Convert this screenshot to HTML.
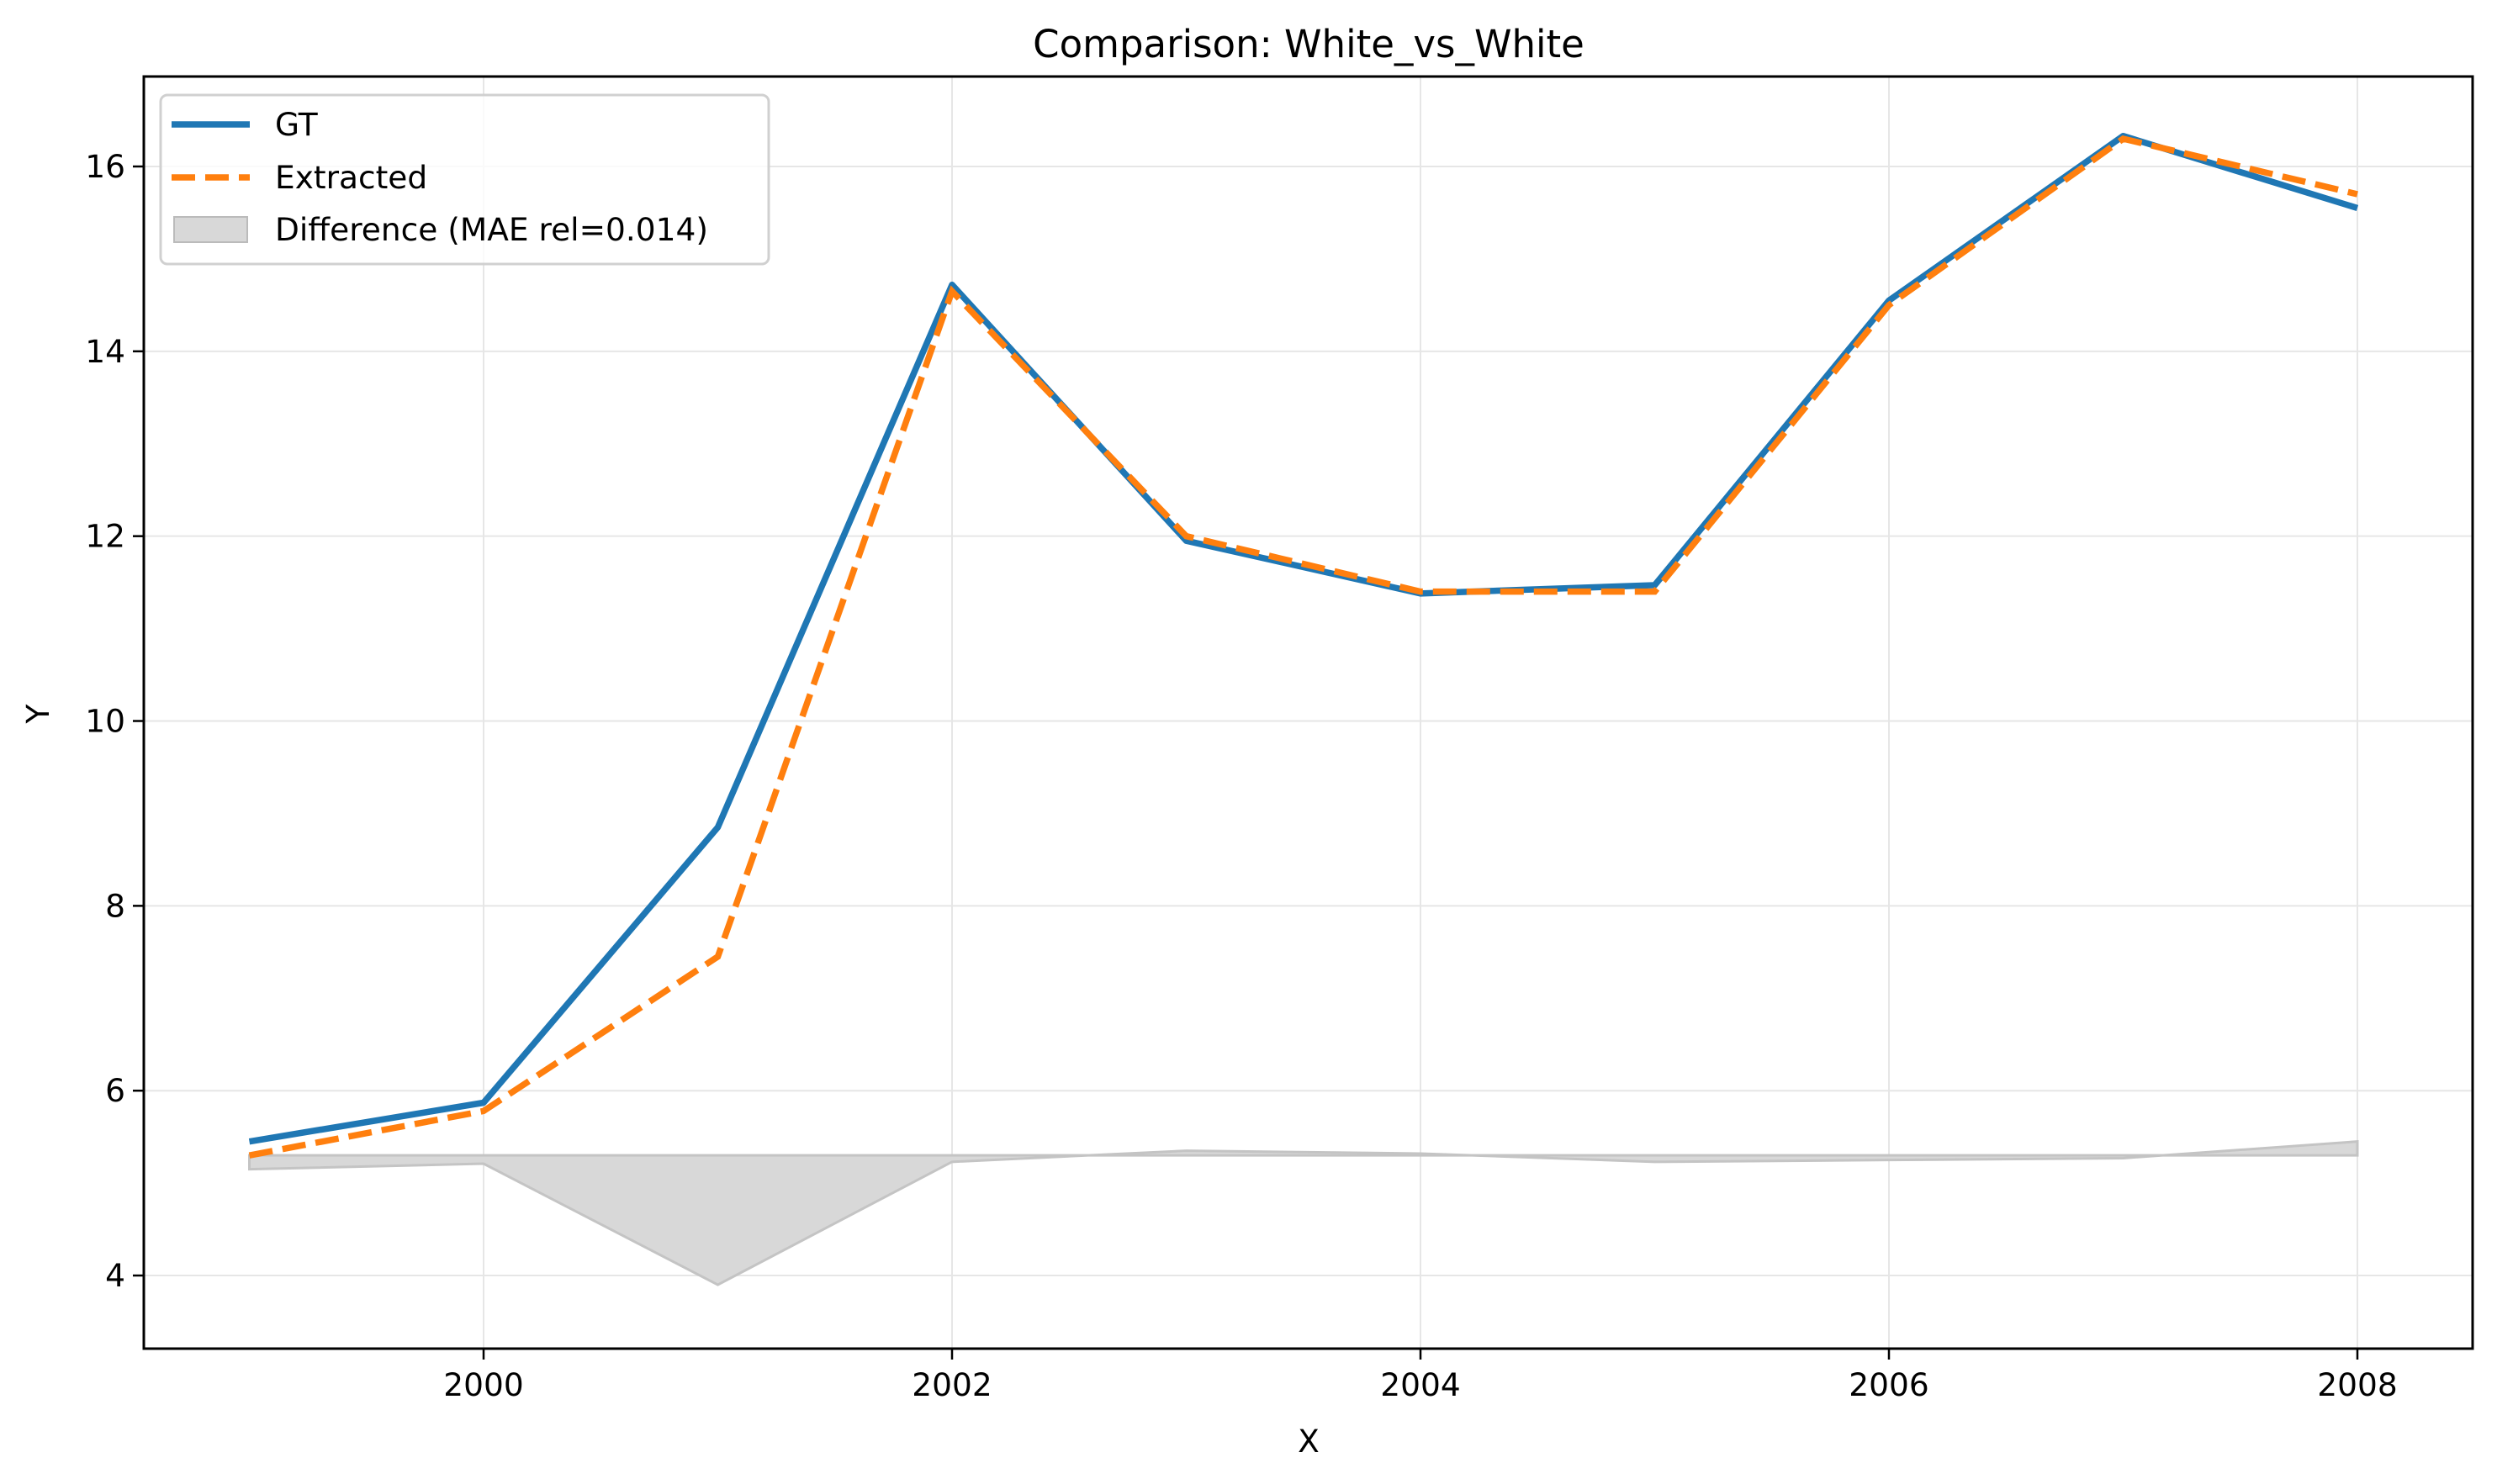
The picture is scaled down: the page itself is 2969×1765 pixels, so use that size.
<!DOCTYPE html>
<html><head><meta charset="utf-8"><style>
html,body{margin:0;padding:0;background:#fff;}
svg{display:block;font-family:"DejaVu Sans","Liberation Sans",sans-serif;}
</style></head><body>
<svg id="chart" width="2969" height="1765" viewBox="0 0 2969 1765" xmlns="http://www.w3.org/2000/svg">
<rect x="0" y="0" width="2969" height="1765" fill="#fff"/>
<g id="grid"></g>
<g id="band"></g>
<g id="lines"></g>
<g id="axes"></g>
<text x="1556" y="68" font-size="45" text-anchor="middle">Comparison: White_vs_White</text>
<text x="1556" y="1727" font-size="37.5" text-anchor="middle">X</text>
<text x="0" y="0" font-size="37.5" text-anchor="middle" transform="translate(58,849) rotate(-90)">Y</text>
<g>
<rect x="191" y="113" width="723" height="201" rx="8" fill="#fff" fill-opacity="0.8" stroke="#d0d0d0" stroke-width="3"/>
<line x1="204" y1="148" x2="297" y2="148" stroke="#1f77b4" stroke-width="7.5"/>
<text x="327" y="161" font-size="37.5">GT</text>
<line x1="204" y1="211" x2="297" y2="211" stroke="#ff7f0e" stroke-width="7.5" stroke-dasharray="28,12"/>
<text x="327" y="224" font-size="37.5">Extracted</text>
<rect x="207" y="258" width="87" height="30" fill="#d8d8d8" stroke="#bbb" stroke-width="2"/>
<text x="327" y="286" font-size="37.5">Difference (MAE rel=0.014)</text>
</g>
</svg>
<script>
const years = [1999,2000,2001,2002,2003,2004,2005,2006,2007,2008];
const gtValues = [5.45,5.87,8.85,14.72,11.95,11.38,11.47,14.55,16.33,15.55];
const extractedValues = [5.3,5.78,7.45,14.65,12.0,11.4,11.4,14.5,16.3,15.7];
const diffBaseline = 5.3;
const xTicks = [2000,2002,2004,2006,2008];
const yTicks = [4,6,8,10,12,14,16];

const L=171,R=2940,T=91,B=1604;
function sx(v){return 575+(v-2000)*278.5;}
function sy(v){return 198+(16-v)*109.92;}
const NS="http://www.w3.org/2000/svg";
function mk(tag,attrs,parent){const e=document.createElementNS(NS,tag);for(const k in attrs)e.setAttribute(k,attrs[k]);parent.appendChild(e);return e;}
const gridG=document.getElementById('grid'),axesG=document.getElementById('axes'),bandG=document.getElementById('band'),linesG=document.getElementById('lines');

xTicks.forEach(t=>{
  const g=mk('line',{x1:sx(t),x2:sx(t),y1:T,y2:B,stroke:'#e6e6e6','stroke-width':2},gridG);
  
  
  const tk=mk('line',{x1:sx(t),x2:sx(t),y1:B,y2:B+13,stroke:'#000','stroke-width':2.5},axesG);
  
  
  const tx=mk('text',{x:sx(t),y:B+56,'font-size':37.5,'text-anchor':'middle'},axesG);
  tx.textContent=t;
  
  
});
yTicks.forEach(t=>{
  const g=mk('line',{x1:L,x2:R,y1:sy(t),y2:sy(t),stroke:'#e6e6e6','stroke-width':2},gridG);
  
  
  const tk=mk('line',{x1:L-13,x2:L,y1:sy(t),y2:sy(t),stroke:'#000','stroke-width':2.5},axesG);
  
  
  const tx=mk('text',{x:L-22,y:sy(t)+13,'font-size':37.5,'text-anchor':'end'},axesG);
  tx.textContent=t;
  
  
});
const frame=mk('rect',{x:L,y:T,width:R-L,height:B-T,fill:'none',stroke:'#000','stroke-width':3},axesG);



const bandTop=years.map((y,i)=>sx(y)+','+sy(diffBaseline+extractedValues[i]-gtValues[i]));
const bandBot=years.slice().reverse().map(y=>sx(y)+','+sy(diffBaseline));
const poly=mk('polygon',{points:bandTop.concat(bandBot).join(' '),fill:'#d8d8d8',stroke:'#c4c4c4','stroke-width':3},bandG);



const gt=mk('polyline',{points:years.map((y,i)=>sx(y)+','+sy(gtValues[i])).join(' '),fill:'none',stroke:'#1f77b4','stroke-width':7.5,'stroke-linejoin':'round'},linesG);


const ex=mk('polyline',{points:years.map((y,i)=>sx(y)+','+sy(extractedValues[i])).join(' '),fill:'none',stroke:'#ff7f0e','stroke-width':7.5,'stroke-dasharray':'28,12'},linesG);


</script>
</body></html>
